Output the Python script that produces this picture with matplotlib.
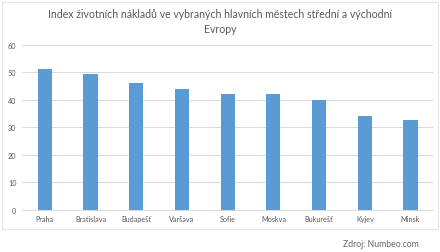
import matplotlib
matplotlib.use('Agg')
import matplotlib.pyplot as plt
from matplotlib.patches import Rectangle

cities = ['Praha', 'Bratislava', 'Budapešť', 'Varšava', 'Sofie',
          'Moskva', 'Bukurešť', 'Kyjev', 'Minsk']
index_values = [51.4, 49.3, 46.0, 43.9, 42.0, 42.0, 40.0, 34.0, 32.8]
y_ticks = [0, 10, 20, 30, 40, 50, 60]

plt.rcParams['font.family'] = ['Lato', 'DejaVu Sans']
text_gray = '#595959'

fig = plt.figure(figsize=(4.4, 2.53), dpi=100)
fig.patch.set_facecolor('white')

# chart area border
fig.patches.append(Rectangle((0.005, 1 - 230 / 253), 0.99, (230 - 3) / 253,
                             transform=fig.transFigure, fill=False,
                             edgecolor='#e6e6e6', linewidth=0.8))

ax = fig.add_axes([0.05, 1 - 210.7 / 253, 0.935, (210.7 - 46) / 253])
ax.bar(range(len(cities)), index_values, width=0.31, color='#5b9bd5', zorder=3)

ax.set_xlim(-0.5, len(cities) - 0.5)
ax.set_ylim(0, 60)
ax.set_yticks(y_ticks)
ax.set_xticks(range(len(cities)))
ax.set_xticklabels(cities)
ax.tick_params(axis='both', length=0, labelsize=5.2, labelcolor=text_gray, pad=4)
ax.grid(axis='y', color='#d9d9d9', linewidth=0.7, zorder=0)
for s in ['top', 'right', 'left']:
    ax.spines[s].set_visible(False)
ax.spines['bottom'].set_color('#d9d9d9')
ax.spines['bottom'].set_linewidth(0.7)

fig.text(0.5, 1 - 22 / 253,
         'Index životních nákladů ve vybraných hlavních městech střední a východní\nEvropy',
         ha='center', va='center', fontsize=7.6, color=text_gray, linespacing=1.5)
fig.text(0.865, 1 - 245 / 253, 'Zdroj: Numbeo.com', ha='center', va='center',
         fontsize=6.2, color='#666666')

fig.savefig('out.png', dpi=100)
